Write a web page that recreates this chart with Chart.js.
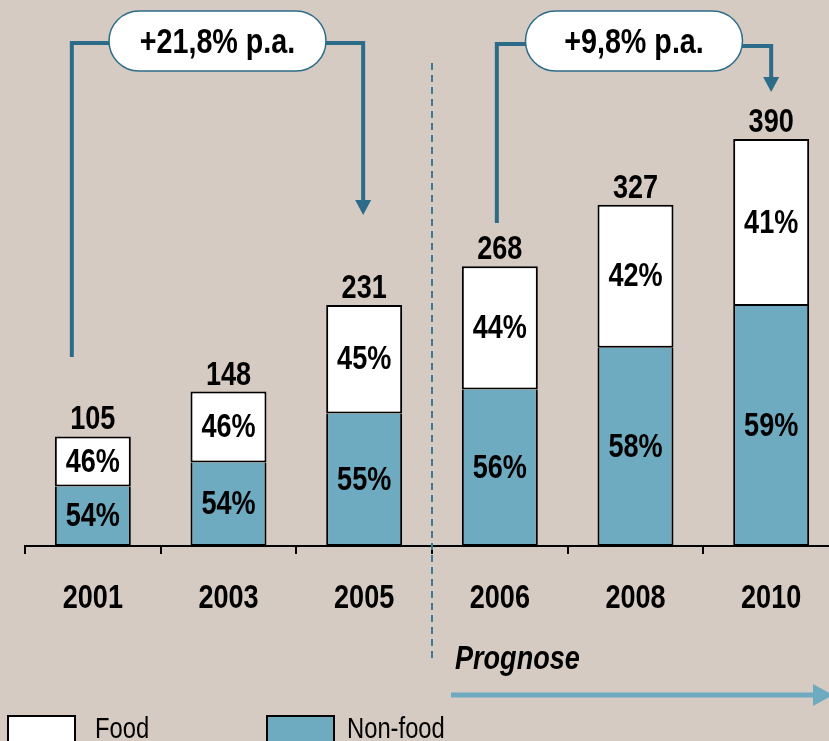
<!DOCTYPE html>
<html>
<head>
<meta charset="utf-8">
<script src="https://cdn.jsdelivr.net/npm/chart.js@4.4.1/dist/chart.umd.min.js"></script>
<style>
    html, body { margin: 0; padding: 0; background: #d6cbc2; overflow: hidden; }
    #wrap { width: 850px; height: 741px; }
</style>
</head>
<body>
<div id="wrap"><canvas id="chart" width="850" height="741"></canvas></div>
<script>
// Werte
const years = ['2001', '2003', '2005', '2006', '2008', '2010'];
const totals = [105, 148, 231, 268, 327, 390];
const nonFood = [57, 80, 127, 150, 190, 230];
const food = [48, 68, 104, 118, 137, 160];
const nonFoodPct = ['54%', '54%', '55%', '56%', '58%', '59%'];
const foodPct = ['46%', '46%', '45%', '44%', '42%', '41%'];
const growthLabels = ['+21,8% p.a.', '+9,8% p.a.'];
const seriesNames = ['Food', 'Non-food'];
const forecastLabel = 'Prognose';

const FONT = "'Liberation Sans', Arial, sans-serif";
const NARROW = 0.82; // Arial Narrow nachbilden
const TEAL = '#6eaac0';
const DARK_TEAL = '#2c6c89';

// Text horizontal gestaucht zeichnen
const narrowText = (ctx, text, x, y, font, align = 'center', baseline = 'middle') => {
    ctx.save();
    ctx.font = font;
    ctx.textAlign = align;
    ctx.textBaseline = baseline;
    ctx.fillStyle = '#000';
    ctx.translate(x, y);
    ctx.scale(NARROW, 1);
    ctx.fillText(text, 0, 0);
    ctx.restore();
};

// Prozentwerte, Summen und Jahreszahlen
const barLabels = {
    id: 'barLabels',
    afterDatasetsDraw(chart) {
        const ctx = chart.ctx;
        const big = `bold 33px ${FONT}`;
        const pctSets = [nonFoodPct, foodPct];
        pctSets.forEach((labels, i) => {
            chart.getDatasetMeta(i).data.forEach((bar, j) => {
                narrowText(ctx, labels[j], bar.x, (bar.y + bar.base) / 2 + 1, big);
            });
        });
        chart.getDatasetMeta(1).data.forEach((bar, j) => {
            narrowText(ctx, String(totals[j]), bar.x, bar.y - 7, big, 'center', 'alphabetic');
        });
        const xs = chart.scales.x;
        years.forEach((yr, i) => {
            narrowText(ctx, yr, xs.getPixelForValue(i), 608, big, 'center', 'alphabetic');
        });
    }
};

const pill = (ctx, cx, cy, w, h, text) => {
    const r = h / 2;
    ctx.beginPath();
    ctx.moveTo(cx - w / 2 + r, cy - r);
    ctx.lineTo(cx + w / 2 - r, cy - r);
    ctx.arc(cx + w / 2 - r, cy, r, -Math.PI / 2, Math.PI / 2);
    ctx.lineTo(cx - w / 2 + r, cy + r);
    ctx.arc(cx - w / 2 + r, cy, r, Math.PI / 2, Math.PI * 1.5);
    ctx.closePath();
    ctx.fillStyle = '#fff';
    ctx.fill();
    ctx.lineWidth = 1.5;
    ctx.strokeStyle = DARK_TEAL;
    ctx.stroke();
    narrowText(ctx, text, cx, cy + 12, `bold 35px ${FONT}`, 'center', 'alphabetic');
};

const downArrow = (ctx, x, tipY) => {
    ctx.beginPath();
    ctx.moveTo(x - 8, tipY - 15);
    ctx.lineTo(x + 8, tipY - 15);
    ctx.lineTo(x, tipY);
    ctx.closePath();
    ctx.fillStyle = DARK_TEAL;
    ctx.fill();
};

// Wachstums-Klammern, Trennlinie, Prognose-Pfeil und Legende
const annotations = {
    id: 'annotations',
    afterDraw(chart) {
        const ctx = chart.ctx;
        const xs = chart.scales.x;
        const px = i => xs.getPixelForValue(i);
        ctx.save();

        // Klammer 2001 -> 2005
        let lx = px(0) - 21, rx = px(2) - 1;
        ctx.strokeStyle = DARK_TEAL;
        ctx.lineWidth = 4;
        ctx.beginPath();
        ctx.moveTo(lx, 357);
        ctx.lineTo(lx, 43);
        ctx.lineTo(rx, 43);
        ctx.lineTo(rx, 202);
        ctx.stroke();
        downArrow(ctx, rx, 215);
        pill(ctx, (lx + rx) / 2, 41, 217, 60, growthLabels[0]);

        // Klammer 2006 -> 2010
        lx = px(3) - 3; rx = px(5);
        ctx.strokeStyle = DARK_TEAL;
        ctx.lineWidth = 4;
        ctx.beginPath();
        ctx.moveTo(lx, 223);
        ctx.lineTo(lx, 44);
        ctx.lineTo((lx + rx) / 2, 44);
        ctx.stroke();
        ctx.beginPath();
        ctx.moveTo((lx + rx) / 2, 46);
        ctx.lineTo(rx, 46);
        ctx.lineTo(rx, 79);
        ctx.stroke();
        downArrow(ctx, rx, 92);
        pill(ctx, (lx + rx) / 2, 41, 217, 60, growthLabels[1]);

        // gestrichelte Trennlinie zwischen 2005 und 2006
        const sep = (px(2) + px(3)) / 2;
        ctx.strokeStyle = '#3b7b96';
        ctx.lineWidth = 2;
        ctx.setLineDash([7, 5]);
        ctx.beginPath();
        ctx.moveTo(sep, 63);
        ctx.lineTo(sep, 662);
        ctx.stroke();
        ctx.setLineDash([]);

        // Prognose
        narrowText(ctx, forecastLabel, sep + 23, 669, `italic bold 33px ${FONT}`, 'left', 'alphabetic');
        ctx.strokeStyle = TEAL;
        ctx.lineWidth = 5;
        ctx.beginPath();
        ctx.moveTo(sep + 19, 695);
        ctx.lineTo(815, 695);
        ctx.stroke();
        ctx.fillStyle = TEAL;
        ctx.beginPath();
        ctx.moveTo(813, 684);
        ctx.lineTo(833, 695);
        ctx.lineTo(813, 706);
        ctx.closePath();
        ctx.fill();

        // Legende
        const legend = [[8, '#ffffff', seriesNames[0], 95], [267, TEAL, seriesNames[1], 347]];
        legend.forEach(([bx, color, name, tx]) => {
            ctx.fillStyle = color;
            ctx.fillRect(bx, 716, 67, 30);
            ctx.strokeStyle = '#000';
            ctx.lineWidth = 2;
            ctx.strokeRect(bx, 716, 67, 30);
            narrowText(ctx, name, tx, 738, `29px ${FONT}`, 'left', 'alphabetic');
        });
        ctx.restore();
    }
};

new Chart(document.getElementById('chart').getContext('2d'), {
    type: 'bar',
    data: {
        labels: years,
        datasets: [
            {
                label: seriesNames[1],
                data: nonFood,
                backgroundColor: TEAL,
                borderColor: '#000',
                borderWidth: 2,
                borderSkipped: 'end'
            },
            {
                label: seriesNames[0],
                data: food,
                backgroundColor: '#ffffff',
                borderColor: '#000',
                borderWidth: 2,
                borderSkipped: false
            }
        ]
    },
    options: {
        responsive: false,
        animation: false,
        layout: { padding: { left: 25, right: 11, top: 45, bottom: 125 } },
        datasets: { bar: { barPercentage: 0.56, categoryPercentage: 1 } },
        plugins: { legend: { display: false }, tooltip: { enabled: false } },
        scales: {
            x: {
                stacked: true,
                offset: true,
                grid: { offset: true, drawOnChartArea: false, tickLength: 8, color: '#000', lineWidth: 2 },
                border: { display: true, color: '#000', width: 2 },
                ticks: { color: 'rgba(0,0,0,0)', padding: 24, maxRotation: 0, font: { family: FONT, size: 32, weight: 'bold' } },
                afterFit: (scale) => { scale.height = 70; }
            },
            y: { stacked: true, display: false, min: 0, max: 480 }
        }
    },
    plugins: [barLabels, annotations]
});
</script>
</body>
</html>
